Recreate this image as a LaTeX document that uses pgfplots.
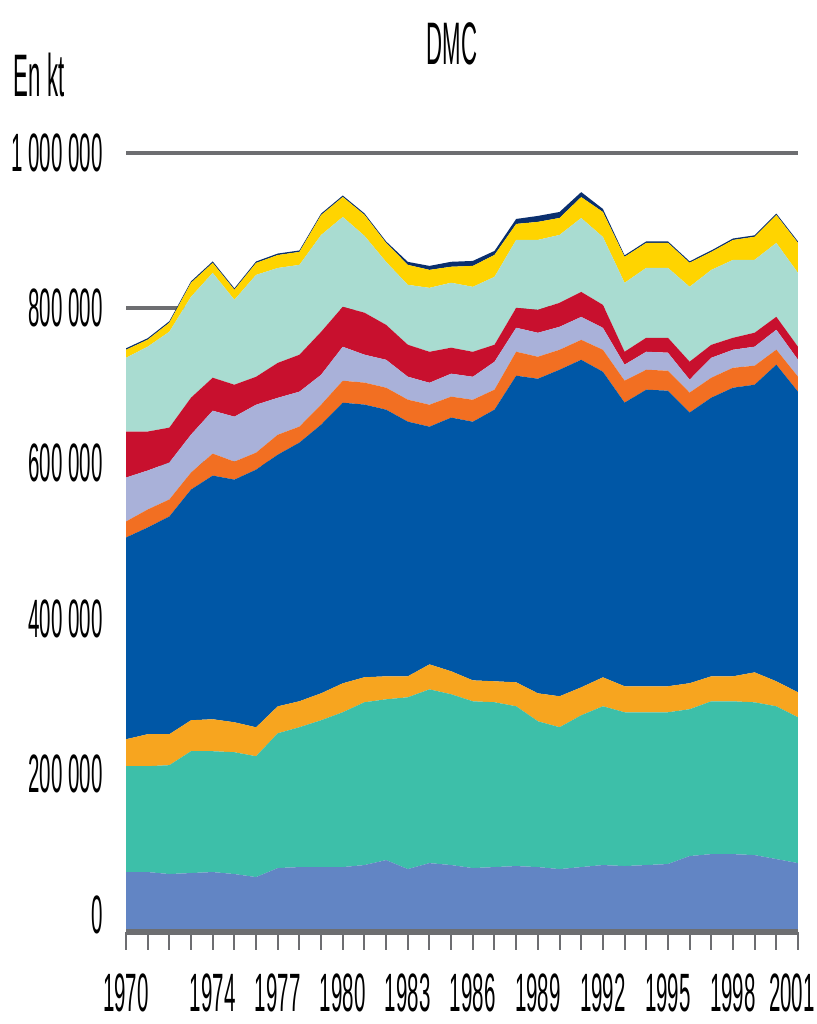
\documentclass[border=0pt]{standalone}
\usepackage{fontspec}
\setmainfont{Liberation Sans}
\usepackage{graphicx}
\usepackage{pgfplots}
\usepackage{pgfplotstable}
\pgfplotsset{compat=1.18}
\definecolor{c1}{HTML}{6285C4}
\definecolor{c2}{HTML}{3DBFA9}
\definecolor{c3}{HTML}{F7A51F}
\definecolor{c4}{HTML}{0057A6}
\definecolor{c5}{HTML}{F26F22}
\definecolor{c6}{HTML}{A9B1D9}
\definecolor{c7}{HTML}{C8102E}
\definecolor{c8}{HTML}{A9DCD1}
\definecolor{c9}{HTML}{FFD400}
\definecolor{c10}{HTML}{0A2F6E}
\definecolor{axgray}{HTML}{6D6E71}
\newcommand{\sq}[1]{\scalebox{0.38}[1]{#1}}
\pgfplotstableread{
year s1 s2 s3 s4 s5 s6 s7 s8 s9 s10
1970 73400 136400 34700 260000 20600 56600 59200 95200 10300 1900
1971 73400 136400 41200 266400 23200 50200 50200 109400 9000 1900
1972 70800 140300 39900 280600 21900 47600 45000 123600 11600 1900
1973 72100 157000 39900 297300 21900 48900 47600 130000 18000 1900
1974 73400 155700 41200 314000 28300 55300 42500 135100 12900 1900
1975 70800 157000 38600 312700 23200 57900 41200 109400 12900 1900
1976 66900 155700 37300 332000 21900 61800 36000 131300 15400 1900
1977 78500 173700 34700 324300 25700 47600 45000 122300 16700 1900
1978 79800 180200 33500 333300 20600 45000 47600 115800 16700 1900
1979 79800 189200 34700 346200 25700 38600 55300 124800 25700 1900
1980 79800 199500 37300 361600 28300 43800 51500 115800 25700 1900
1981 82400 209800 32200 351400 28300 36000 54100 99100 27000 1900
1982 88800 207200 29600 343600 28300 36000 45000 81100 24500 1900
1983 77200 221400 27000 328200 28300 29600 41200 77200 25700 3900
1984 84900 223900 32200 306300 28300 28300 39900 82400 23200 5100
1985 82400 220100 29600 326900 27000 29600 33500 83700 20600 6400
1986 78500 214900 27000 333300 28300 29600 32200 83700 27000 6400
1987 79800 212400 27000 350100 25700 36000 21900 87500 28300 5100
1988 81100 205900 30900 395100 30900 30900 25700 87500 20600 6400
1989 79800 187900 36000 405400 28300 30900 29600 90100 23200 7700
1990 77200 182800 39900 420800 25700 29600 30900 87500 21900 7700
1991 79800 195600 36000 422100 25700 29600 32200 95200 27000 6400
1992 82400 204600 37300 393800 28300 28300 29600 87500 32200 3900
1993 81100 198200 33500 365500 28300 20600 16700 88800 33500 1900
1994 82400 196900 33500 382200 25700 23200 18000 90100 32200 1900
1995 83700 195600 33500 380900 25700 23200 19300 90100 32200 1900
1996 94000 189200 33500 348800 25700 16700 23200 96500 30900 1900
1997 96500 196900 32200 359100 25700 25700 16700 96500 23200 1900
1998 96500 196900 32200 371900 25700 23200 15400 100400 25700 1900
1999 95200 196900 38600 370700 24500 24500 18000 94000 29600 1900
2000 90100 196900 32200 408000 19300 25700 16700 95200 36000 1900
2001 84900 187900 32200 387400 19300 21900 16700 95200 38600 1900
}\dmc
\begin{document}
\begin{tikzpicture}
\useasboundingbox (0,0) rectangle (408.5pt,512pt);
\node[font=\fontsize{30pt}{32pt}\selectfont, inner sep=0pt] at (226pt,490.3pt) {\scalebox{0.37}[1]{DMC}};
\node[font=\fontsize{30pt}{32pt}\selectfont, inner sep=0pt] at (19.5pt,474.5pt) {\scalebox{0.37}[1]{En kt}};
\begin{axis}[
  at={(63pt,45.95pt)}, anchor=south west, scale only axis,
  width=336pt, height=389.55pt,
  xmin=1970, xmax=2001, ymin=-4000, ymax=1000000,
  stack plots=y,
  axis x line*=bottom, axis y line*=left,
  y axis line style={draw=none},
  x axis line style={draw=axgray, line width=2.5pt, -},
  xtick={1970,...,2001},
  xticklabels={\sq{1970},{},{},{},\sq{1974},{},{},\sq{1977},{},{},\sq{1980},{},{},\sq{1983},{},{},\sq{1986},{},{},\sq{1989},{},{},\sq{1992},{},{},\sq{1995},{},{},\sq{1998},{},{},\hbox{\sq{2001}\kern6pt}},
  ytick={0,200000,400000,600000,800000,1000000},
  yticklabels={\raisebox{14pt}{\sq{0}},\sq{200 000},\sq{400 000},\sq{600 000},\sq{800 000},\sq{1 000 000}},
  ymajorgrids, grid style={draw=axgray, line width=2.2pt},
  tick align=outside,
  major tick length=8.75pt,
  xtick style={draw=axgray, line width=1pt},
  ytick style={draw=none},
  ticklabel style={font=\fontsize{27pt}{30pt}\selectfont, inner sep=0pt},
  yticklabel style={xshift=-2.75pt},
  xticklabel style={yshift=-11.7pt},
  scaled y ticks=false,
]
\addplot[fill=c1, draw=none] table[x=year,y=s1]{\dmc} \closedcycle;
\addplot[fill=c2, draw=none] table[x=year,y=s2]{\dmc} \closedcycle;
\addplot[fill=c3, draw=none] table[x=year,y=s3]{\dmc} \closedcycle;
\addplot[fill=c4, draw=none] table[x=year,y=s4]{\dmc} \closedcycle;
\addplot[fill=c5, draw=none] table[x=year,y=s5]{\dmc} \closedcycle;
\addplot[fill=c6, draw=none] table[x=year,y=s6]{\dmc} \closedcycle;
\addplot[fill=c7, draw=none] table[x=year,y=s7]{\dmc} \closedcycle;
\addplot[fill=c8, draw=none] table[x=year,y=s8]{\dmc} \closedcycle;
\addplot[fill=c9, draw=none] table[x=year,y=s9]{\dmc} \closedcycle;
\addplot[fill=c10, draw=none] table[x=year,y=s10]{\dmc} \closedcycle;
\end{axis}
\end{tikzpicture}
\end{document}
